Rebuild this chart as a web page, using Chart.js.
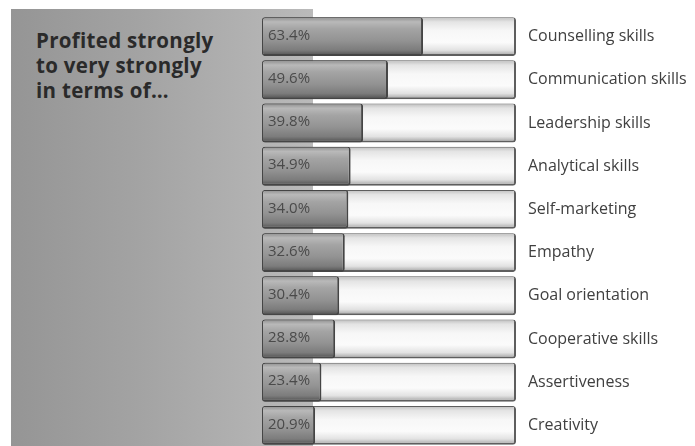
<!DOCTYPE html>
<html><head><meta charset="utf-8">
<script src="https://cdn.jsdelivr.net/npm/chart.js@4/dist/chart.umd.min.js"></script>
<style>
html,body{margin:0;padding:0;background:#fff;width:695px;height:446px;overflow:hidden;}
#panel{position:absolute;left:11px;top:9px;width:302px;height:437px;background:linear-gradient(to right,#959595 0%,#a4a4a4 45%,#bababa 100%);}
#title{position:absolute;left:36px;top:27.5px;font-family:"Open Sans",sans-serif;font-weight:700;font-size:20.5px;line-height:25px;color:#2a2a2a;letter-spacing:0.3px;}
#wrap{position:absolute;left:0;top:0;width:695px;height:446px;overflow:hidden;}
</style></head>
<body>
<div id="panel"></div>
<div id="title">Profited strongly<br>to very strongly<br>in terms of…</div>
<div id="wrap"><canvas id="c" width="695" height="448"></canvas></div>
<script>
const categories = ["Counselling skills","Communication skills","Leadership skills","Analytical skills","Self-marketing","Empathy","Goal orientation","Cooperative skills","Assertiveness","Creativity"];
const values = [63.4,49.6,39.8,34.9,34.0,32.6,30.4,28.8,23.4,20.9];
const valueLabels = ["63.4%","49.6%","39.8%","34.9%","34.0%","32.6%","30.4%","28.8%","23.4%","20.9%"];
const trackMax = 100;
const BAR_PCT = 0.9;

function bandGradient(ctx, stops, fallback){
  const chart = ctx.chart;
  const ys = chart.scales && chart.scales.y;
  const area = chart.chartArea;
  if(!ys || !area || ctx.dataIndex === undefined) return fallback;
  const band = (area.bottom - area.top) / categories.length;
  const yc = ys.getPixelForValue(ctx.dataIndex);
  if(!isFinite(yc)) return fallback;
  const h = band * BAR_PCT;
  const g = chart.ctx.createLinearGradient(0, yc - h/2, 0, yc + h/2);
  stops.forEach(s => g.addColorStop(s[0], s[1]));
  return g;
}
const trackStops = [[0,'#bdbdbd'],[0.12,'#e4e4e4'],[0.35,'#f7f7f7'],[0.65,'#fbfbfb'],[0.85,'#e2e2e2'],[1,'#9c9c9c']];
const valStops = [[0,'#8e8e8e'],[0.12,'#b9b9b9'],[0.3,'#a4a4a4'],[0.6,'#939393'],[0.85,'#7c7c7c'],[1,'#4e4e4e']];

const valueLabelPlugin = {
  id:'valueLabels',
  afterDatasetsDraw(chart){
    const meta = chart.getDatasetMeta(1);
    const c = chart.ctx;
    c.save();
    c.font = '15px "Open Sans",sans-serif';
    c.fillStyle = '#4a4a4a';
    c.textBaseline = 'middle';
    c.textAlign = 'left';
    meta.data.forEach((bar,i)=>{
      c.fillText(valueLabels[i], chart.chartArea.left + 6, bar.y - 1);
    });
    c.restore();
  }
};

new Chart(document.getElementById('c'),{
  type:'bar',
  data:{
    labels:categories,
    datasets:[
      {data:categories.map(()=>trackMax),
       backgroundColor:(ctx)=>bandGradient(ctx,trackStops,'#f2f2f2'),
       borderColor:'#5e5e5e',borderWidth:{top:1,left:1,right:2,bottom:2},borderRadius:3,borderSkipped:false,
       grouped:false,order:2,barPercentage:BAR_PCT,categoryPercentage:1},
      {data:values,
       backgroundColor:(ctx)=>bandGradient(ctx,valStops,'#999'),
       borderColor:'#454545',borderWidth:{top:1,left:1,right:2,bottom:2},borderRadius:3,borderSkipped:false,
       grouped:false,order:1,barPercentage:BAR_PCT,categoryPercentage:1}
    ]
  },
  options:{
    indexAxis:'y',
    responsive:false,
    animation:false,
    layout:{padding:{left:262,top:15,bottom:1,right:0}},
    plugins:{legend:{display:false},tooltip:{enabled:false}},
    scales:{
      x:{display:false,min:0,max:100},
      y:{position:'right',grid:{display:false,drawTicks:false},border:{display:false},
         ticks:{padding:12,color:'#404040',font:{family:'"Open Sans",sans-serif',size:16}},
         afterFit(s){s.width=179;s.paddingTop=0;s.paddingBottom=0;}}
    }
  },
  plugins:[valueLabelPlugin]
});
</script>
</body></html>
